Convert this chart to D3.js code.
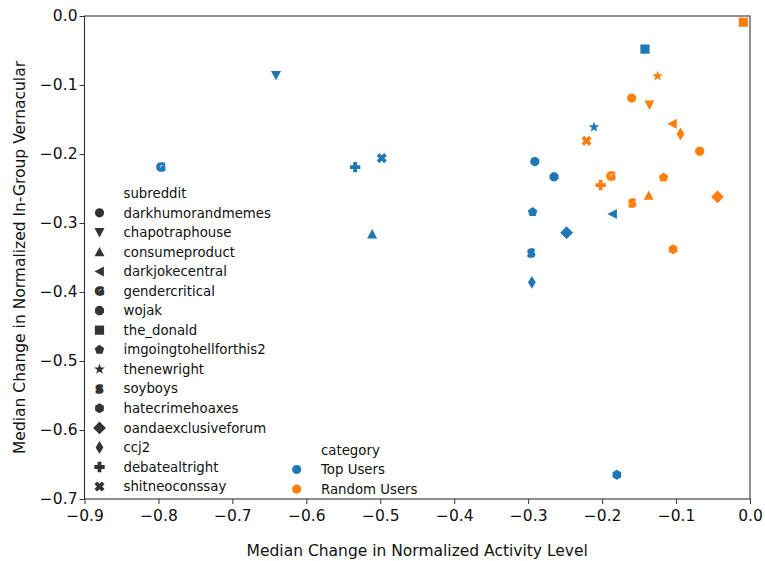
<!DOCTYPE html>
<html>
<head>
<meta charset="utf-8">
<script src="https://cdn.jsdelivr.net/npm/d3@7"></script>
<style>
  html, body { margin: 0; padding: 0; background: #fff; }
  svg { display: block; font-family: "DejaVu Sans", sans-serif; }
</style>
</head>
<body>
<svg id="chart" width="765" height="561"></svg>
<script>
// Subreddits and the marker shape used for each
const subreddits = ["darkhumorandmemes", "chapotraphouse", "consumeproduct", "darkjokecentral",
  "gendercritical", "wojak", "the_donald", "imgoingtohellforthis2", "thenewright", "soyboys",
  "hatecrimehoaxes", "oandaexclusiveforum", "ccj2", "debatealtright", "shitneoconssay"];
const markers = ["circle", "triDown", "triUp", "triLeft", "G", "octagon", "square", "pentagon",
  "star", "S", "hexagon", "diamond", "thinDiamond", "plus", "cross"];

const categories = ["Top Users", "Random Users"];
const categoryColors = ["#1f77b4", "#ff7f0e"];

// Median change in normalized activity level (x) per subreddit, same order as subreddits
const topActivity    = [-0.291, -0.641, -0.511, -0.186, -0.797, -0.265, -0.142, -0.294, -0.211, -0.296, -0.180, -0.248, -0.295, -0.534, -0.498];
const randomActivity = [-0.160, -0.136, -0.137, -0.105, -0.188, -0.068, -0.009, -0.117, -0.125, -0.159, -0.104, -0.044, -0.094, -0.202, -0.221];
// Median change in normalized in-group vernacular (y)
const topVernacular    = [-0.211, -0.086, -0.316, -0.287, -0.219, -0.233, -0.048, -0.284, -0.161, -0.343, -0.665, -0.314, -0.386, -0.219, -0.206];
const randomVernacular = [-0.119, -0.129, -0.260, -0.156, -0.232, -0.196, -0.009, -0.234, -0.087, -0.271, -0.338, -0.262, -0.171, -0.245, -0.181];

const xTicks = [-0.9, -0.8, -0.7, -0.6, -0.5, -0.4, -0.3, -0.2, -0.1, 0.0];
const yTicks = [0.0, -0.1, -0.2, -0.3, -0.4, -0.5, -0.6, -0.7];

const svg = d3.select("#chart");
const margin = { left: 84.5, right: 15, top: 16, bottom: 62 };
const W = 765, H = 561;

const x = d3.scaleLinear().domain([-0.9, 0.0]).range([margin.left, W - margin.right]);
const y = d3.scaleLinear().domain([-0.7, 0.0]).range([H - margin.bottom, margin.top]);

// Marker path builders, centred on the origin
function poly(pts) { return "M" + pts.map(p => p[0].toFixed(2) + "," + p[1].toFixed(2)).join("L") + "Z"; }
function regular(n, r, rot) {
  return poly(d3.range(n).map(k => {
    const a = -Math.PI / 2 + rot + 2 * Math.PI * k / n;
    return [r * Math.cos(a), r * Math.sin(a)];
  }));
}
function markerPath(name) {
  switch (name) {
    case "circle": return d3.symbol(d3.symbolCircle, Math.PI * 4.6 * 4.6)();
    case "octagon": return regular(8, 4.9, Math.PI / 8);
    case "hexagon": return regular(6, 5.0, 0);
    case "triUp": return poly([[0, -5], [-5, 4.4], [5, 4.4]]);
    case "triDown": return poly([[0, 5], [-5, -4.4], [5, -4.4]]);
    case "triLeft": return poly([[-5, 0], [4.4, -5], [4.4, 5]]);
    case "square": return poly([[-4.6, -4.6], [4.6, -4.6], [4.6, 4.6], [-4.6, 4.6]]);
    case "pentagon": return regular(5, 5.0, 0);
    case "star": {
      const pts = [];
      for (let k = 0; k < 10; k++) {
        const r = k % 2 === 0 ? 5.6 : 2.3;
        const a = -Math.PI / 2 + Math.PI * k / 5;
        pts.push([r * Math.cos(a), r * Math.sin(a)]);
      }
      return poly(pts);
    }
    case "diamond": return poly([[0, -6.4], [6.4, 0], [0, 6.4], [-6.4, 0]]);
    case "thinDiamond": return poly([[0, -6.4], [3.9, 0], [0, 6.4], [-3.9, 0]]);
    case "plus": {
      const a = 5.2, b = 1.9;
      return poly([[-b, -a], [b, -a], [b, -b], [a, -b], [a, b], [b, b], [b, a], [-b, a], [-b, b], [-a, b], [-a, -b], [-b, -b]]);
    }
    case "cross": {
      const a = 5.2, b = 1.9, c = Math.SQRT1_2;
      const base = [[-b, -a], [b, -a], [b, -b], [a, -b], [a, b], [b, b], [b, a], [-b, a], [-b, b], [-a, b], [-a, -b], [-b, -b]];
      return poly(base.map(([px, py]) => [c * (px - py), c * (px + py)]));
    }
  }
  return null;
}

function drawMarker(g, name, cx, cy, color) {
  if (name === "G" || name === "S") {
    g.append("text")
      .attr("x", cx).attr("y", cy)
      .attr("dy", "0.36em")
      .attr("text-anchor", "middle")
      .attr("font-size", 11)
      .attr("font-weight", "bold")
      .attr("fill", color)
      .attr("stroke", color)
      .attr("stroke-width", 1.6)
      .attr("stroke-linejoin", "round")
      .text(name);
  } else {
    g.append("path")
      .attr("d", markerPath(name))
      .attr("transform", `translate(${cx},${cy})`)
      .attr("fill", color);
  }
}

// Axes
const axisColor = "#333";
const fmt = d3.format(".1f");

const xAxis = svg.append("g")
  .attr("transform", `translate(0,${H - margin.bottom})`)
  .call(d3.axisBottom(x).tickValues(xTicks).tickFormat(fmt).tickSize(5).tickSizeOuter(0).tickPadding(6));
const yAxis = svg.append("g")
  .attr("transform", `translate(${margin.left},0)`)
  .call(d3.axisLeft(y).tickValues(yTicks).tickFormat(fmt).tickSize(5).tickSizeOuter(0).tickPadding(2));

[xAxis, yAxis].forEach(a => {
  a.select(".domain").remove();
  a.selectAll(".tick line").attr("stroke", axisColor).attr("stroke-width", 1);
  a.selectAll(".tick text").attr("fill", "#111").attr("font-size", 15.5).attr("font-family", "DejaVu Sans");
});

// Frame
svg.append("rect")
  .attr("x", margin.left).attr("y", margin.top)
  .attr("width", W - margin.right - margin.left)
  .attr("height", H - margin.bottom - margin.top)
  .attr("fill", "none").attr("stroke", axisColor).attr("stroke-width", 1.1);

// Axis titles
svg.append("text")
  .attr("x", (x.range()[0] + x.range()[1]) / 2).attr("y", 556)
  .attr("text-anchor", "middle").attr("font-size", 15.5).attr("fill", "#111")
  .text("Median Change in Normalized Activity Level");
svg.append("text")
  .attr("transform", `translate(25,${(y.range()[0] + y.range()[1]) / 2}) rotate(-90)`)
  .attr("text-anchor", "middle").attr("font-size", 15.5).attr("fill", "#111")
  .text("Median Change in Normalized In-Group Vernacular");

// Points
const pts = svg.append("g");
const seriesX = [topActivity, randomActivity];
const seriesY = [topVernacular, randomVernacular];
categories.forEach((cat, ci) => {
  subreddits.forEach((s, i) => {
    drawMarker(pts, markers[i], x(seriesX[ci][i]), y(seriesY[ci][i]), categoryColors[ci]);
  });
});

// Legend: subreddit markers
const leg = svg.append("g").attr("font-size", 13.3).attr("fill", "#111");
const legTop = 193.3, legStep = 19.55;
leg.append("text").attr("x", 123.5).attr("y", legTop).attr("dy", "0.35em").text("subreddit");
subreddits.forEach((s, i) => {
  const ly = legTop + legStep * (i + 1);
  drawMarker(leg, markers[i], 99.5, ly, "#333");
  leg.append("text").attr("x", 123.5).attr("y", ly).attr("dy", "0.35em").text(s);
});

// Legend: category colours
const leg2 = svg.append("g").attr("font-size", 13.3).attr("fill", "#111");
leg2.append("text").attr("x", 321).attr("y", 450).attr("dy", "0.35em").text("category");
categories.forEach((c, i) => {
  const ly = 469.5 + 19.55 * i;
  leg2.append("circle").attr("cx", 296.7).attr("cy", ly).attr("r", 4.6).attr("fill", categoryColors[i]);
  leg2.append("text").attr("x", 321).attr("y", ly).attr("dy", "0.35em").text(c);
});
</script>
</body>
</html>
